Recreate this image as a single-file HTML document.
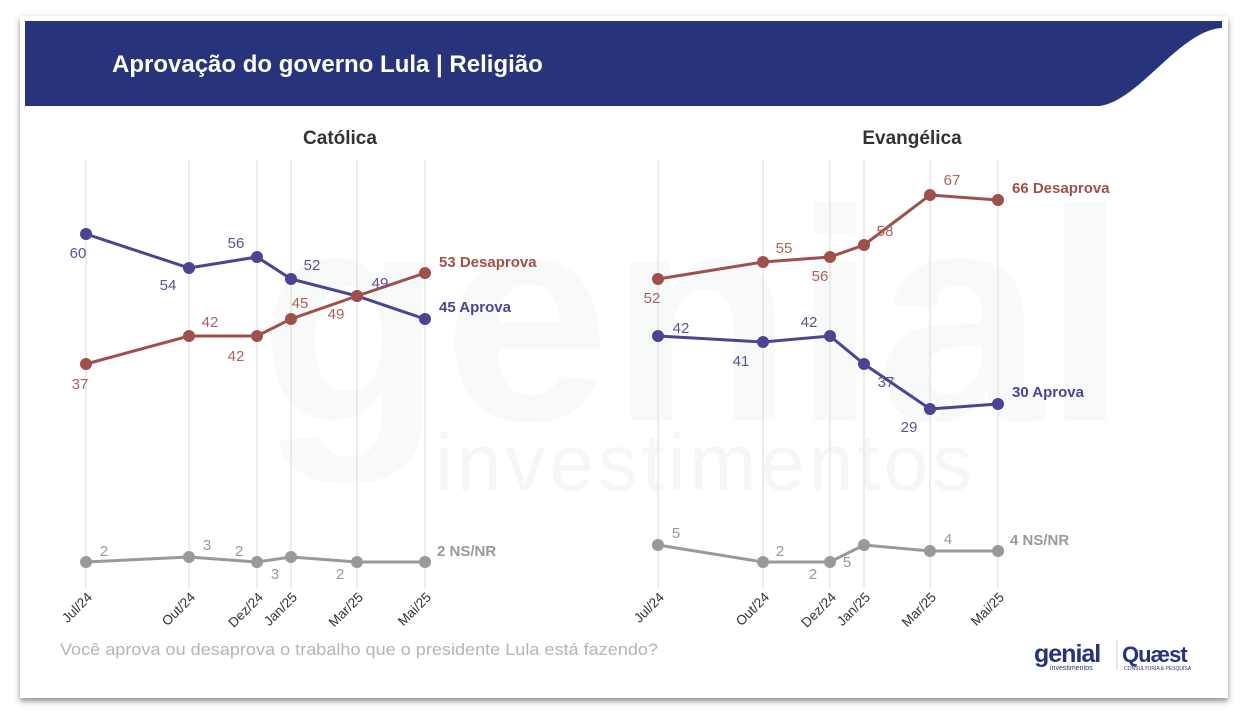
<!DOCTYPE html>
<html><head><meta charset="utf-8"><style>
body{margin:0;width:1250px;height:720px;background:#fff;overflow:hidden;font-family:"Liberation Sans",sans-serif}
</style></head><body>
<svg width="1250" height="720" xmlns="http://www.w3.org/2000/svg" font-family="Liberation Sans, sans-serif">
<defs><filter id="sh" x="-5%" y="-5%" width="110%" height="112%"><feDropShadow dx="0" dy="3" stdDeviation="3" flood-color="#000" flood-opacity="0.45"/></filter></defs>
<rect x="20" y="16" width="1208" height="682" fill="#fff" filter="url(#sh)"/>
<path d="M25 21 H1222 V28 C1180 30 1140 100 1100 106 H25 Z" fill="#27337a"/>
<text x="112" y="72" fill="#fff" font-size="24" font-weight="bold">Aprovação do governo Lula | Religião</text>
<!-- watermark -->
<text x="260" y="420" fill="#f8f9f9" font-size="300" font-weight="bold">genial</text>
<text x="435" y="490" fill="#f5f6f6" font-size="80" letter-spacing="4">investimentos</text>
<text x="340" y="144" font-size="19" font-weight="bold" fill="#333" text-anchor="middle">Católica</text>
<text x="912" y="144" font-size="19" font-weight="bold" fill="#333" text-anchor="middle">Evangélica</text>
<g stroke="#e6e6e6" stroke-width="1.5">
<line x1="86" y1="160" x2="86" y2="588"/><line x1="189" y1="160" x2="189" y2="588"/><line x1="257" y1="160" x2="257" y2="588"/><line x1="291" y1="160" x2="291" y2="588"/><line x1="357" y1="160" x2="357" y2="588"/><line x1="425" y1="160" x2="425" y2="588"/>
<line x1="658" y1="160" x2="658" y2="588"/><line x1="763" y1="160" x2="763" y2="588"/><line x1="830" y1="160" x2="830" y2="588"/><line x1="864" y1="160" x2="864" y2="588"/><line x1="930" y1="160" x2="930" y2="588"/><line x1="998" y1="160" x2="998" y2="588"/>
</g>
<g stroke-width="3" fill="none">
<polyline stroke="#4b4394" points="86,234 189,268 257,257 291,279 357,296 425,319"/>
<polyline stroke="#a0504b" points="86,364 189,336 257,336 291,319 357,296 425,273"/>
<polyline stroke="#999" points="86,562 189,557 257,562 291,557 357,562 425,562"/>
<polyline stroke="#4b4394" points="658,336 763,342 830,336 864,364 930,409 998,404"/>
<polyline stroke="#a0504b" points="658,279 763,262 830,257 864,245 930,195 998,200"/>
<polyline stroke="#999" points="658,545 763,562 830,562 864,545 930,551 998,551"/>
</g>
<g fill="#4b4394"><circle cx="86" cy="234" r="6"/><circle cx="189" cy="268" r="6"/><circle cx="257" cy="257" r="6"/><circle cx="291" cy="279" r="6"/><circle cx="357" cy="296" r="6"/><circle cx="425" cy="319" r="6"/>
<circle cx="658" cy="336" r="6"/><circle cx="763" cy="342" r="6"/><circle cx="830" cy="336" r="6"/><circle cx="864" cy="364" r="6"/><circle cx="930" cy="409" r="6"/><circle cx="998" cy="404" r="6"/></g>
<g fill="#a0504b"><circle cx="86" cy="364" r="6"/><circle cx="189" cy="336" r="6"/><circle cx="257" cy="336" r="6"/><circle cx="291" cy="319" r="6"/><circle cx="357" cy="296" r="6"/><circle cx="425" cy="273" r="6"/>
<circle cx="658" cy="279" r="6"/><circle cx="763" cy="262" r="6"/><circle cx="830" cy="257" r="6"/><circle cx="864" cy="245" r="6"/><circle cx="930" cy="195" r="6"/><circle cx="998" cy="200" r="6"/></g>
<g fill="#999"><circle cx="86" cy="562" r="6"/><circle cx="189" cy="557" r="6"/><circle cx="257" cy="562" r="6"/><circle cx="291" cy="557" r="6"/><circle cx="357" cy="562" r="6"/><circle cx="425" cy="562" r="6"/>
<circle cx="658" cy="545" r="6"/><circle cx="763" cy="562" r="6"/><circle cx="830" cy="562" r="6"/><circle cx="864" cy="545" r="6"/><circle cx="930" cy="551" r="6"/><circle cx="998" cy="551" r="6"/></g>
<g font-size="15" fill="#5a5399" text-anchor="middle">
<text x="78" y="258">60</text><text x="168" y="290">54</text><text x="236" y="248">56</text><text x="312" y="270">52</text><text x="380" y="288">49</text>
<text x="681" y="333">42</text><text x="741" y="366">41</text><text x="809" y="327">42</text><text x="886" y="387">37</text><text x="909" y="432">29</text>
</g>
<g font-size="15" fill="#a86560" text-anchor="middle">
<text x="80" y="389">37</text><text x="210" y="327">42</text><text x="236" y="361">42</text><text x="300" y="308">45</text><text x="336" y="319">49</text>
<text x="652" y="303">52</text><text x="784" y="253">55</text><text x="820" y="281">56</text><text x="885" y="236">58</text><text x="952" y="185">67</text>
</g>
<g font-size="15" fill="#999" text-anchor="middle">
<text x="104" y="556">2</text><text x="207" y="550">3</text><text x="239" y="556">2</text><text x="275" y="579">3</text><text x="340" y="579">2</text>
<text x="676" y="538">5</text><text x="780" y="556">2</text><text x="813" y="579">2</text><text x="847" y="567">5</text><text x="948" y="544">4</text>
</g>
<g font-size="15" font-weight="bold">
<text x="439" y="267" fill="#a0504b">53 Desaprova</text>
<text x="439" y="312" fill="#4b4394">45 Aprova</text>
<text x="437" y="556" fill="#999">2 NS/NR</text>
<text x="1012" y="193" fill="#a0504b">66 Desaprova</text>
<text x="1012" y="397" fill="#4b4394">30 Aprova</text>
<text x="1010" y="545" fill="#999">4 NS/NR</text>
</g>
<g font-size="13.5" fill="#333" text-anchor="end">
<text transform="translate(93,598) rotate(-45)">Jul/24</text>
<text transform="translate(196,598) rotate(-45)">Out/24</text>
<text transform="translate(264,598) rotate(-45)">Dez/24</text>
<text transform="translate(298,598) rotate(-45)">Jan/25</text>
<text transform="translate(364,598) rotate(-45)">Mar/25</text>
<text transform="translate(432,598) rotate(-45)">Mai/25</text>
<text transform="translate(665,598) rotate(-45)">Jul/24</text>
<text transform="translate(770,598) rotate(-45)">Out/24</text>
<text transform="translate(837,598) rotate(-45)">Dez/24</text>
<text transform="translate(871,598) rotate(-45)">Jan/25</text>
<text transform="translate(937,598) rotate(-45)">Mar/25</text>
<text transform="translate(1005,598) rotate(-45)">Mai/25</text>
</g>
<text x="60" y="655" font-size="17" fill="#b5b5b5" textLength="598" lengthAdjust="spacingAndGlyphs">Você aprova ou desaprova o trabalho que o presidente Lula está fazendo?</text>
<text x="1034" y="662" font-size="25" font-weight="bold" fill="#27337a" letter-spacing="-1">genial</text>
<text x="1050" y="670" font-size="7" fill="#27337a">investimentos</text>
<line x1="1117" y1="640" x2="1117" y2="670" stroke="#ccc"/>
<text x="1122" y="662" font-size="22" font-weight="bold" fill="#27337a" letter-spacing="-1">Quæst</text>
<text x="1124" y="670" font-size="5" fill="#27337a">CONSULTORIA &amp; PESQUISA</text>
</svg>
</body></html>
